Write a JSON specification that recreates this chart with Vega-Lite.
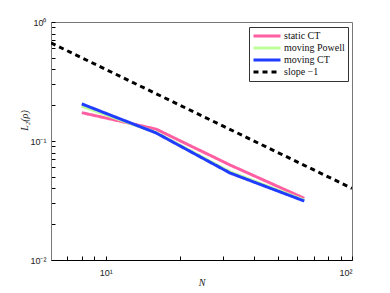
{
  "$schema": "https://vega.github.io/schema/vega-lite/v6.json",
  "width": 301,
  "height": 238,
  "autosize": "none",
  "padding": {"left": 51, "top": 22, "right": 38, "bottom": 33},
  "background": "white",
  "config": {
    "view": {"stroke": "#777"},
    "axis": {"grid": false, "domainColor": "#333", "tickColor": "#000", "tickSize": 4, "labelFont": "Liberation Sans", "labelFontSize": 9, "labelColor": "#222", "titleFont": "Liberation Serif", "titleFontStyle": "italic", "titleFontWeight": "normal", "titleFontSize": 10, "titleColor": "#222"}
  },
  "data": {"values": [
    {"series": "static CT", "N": 8, "v": 0.173},
    {"series": "static CT", "N": 16, "v": 0.126},
    {"series": "static CT", "N": 32, "v": 0.0628},
    {"series": "static CT", "N": 64, "v": 0.033},
    {"series": "moving Powell", "N": 8, "v": 0.196},
    {"series": "moving Powell", "N": 16, "v": 0.118},
    {"series": "moving Powell", "N": 32, "v": 0.055},
    {"series": "moving Powell", "N": 64, "v": 0.0318},
    {"series": "moving CT", "N": 8, "v": 0.205},
    {"series": "moving CT", "N": 16, "v": 0.117},
    {"series": "moving CT", "N": 32, "v": 0.0538},
    {"series": "moving CT", "N": 64, "v": 0.0313},
    {"series": "slope −1", "N": 6, "v": 0.667},
    {"series": "slope −1", "N": 100, "v": 0.04}
  ]},
  "layer": [
    {
      "mark": {"type": "line", "clip": true},
      "encoding": {
        "x": {"field": "N", "type": "quantitative", "scale": {"type": "log", "domain": [6, 100], "nice": false},
          "axis": {"title": "N", "tickSize": -4, "values": [6,7,8,9,10,20,30,40,50,60,70,80,90,100], "labelExpr": "datum.value == 10 ? '10¹' : datum.value == 100 ? '10²' : ''", "labelPadding": 12, "titleY": 22, "titleBaseline": "middle", "domainColor": "#000"}},
        "y": {"field": "v", "type": "quantitative", "scale": {"type": "log", "domain": [0.01, 1], "nice": false},
          "axis": {"title": "L₂(ρ)", "tickSize": -4, "values": [0.01,0.02,0.03,0.04,0.05,0.06,0.07,0.08,0.09,0.1,0.2,0.3,0.4,0.5,0.6,0.7,0.8,0.9,1], "labelExpr": "datum.value == 1 ? '10⁰' : datum.value == 0.1 ? '10⁻¹' : datum.value == 0.01 ? '10⁻²' : ''", "labelPadding": 9, "titleX": -27, "titleY": 98, "titleBaseline": "middle", "domainColor": "#777"}},
        "color": {"field": "series", "type": "nominal", "sort": ["static CT", "moving Powell", "moving CT", "slope −1"],
          "scale": {"domain": ["static CT", "moving Powell", "moving CT", "slope −1"], "range": ["#ff5fa2", "#bfff9a", "#1f3cff", "#000000"]},
          "legend": {"title": null, "orient": "none", "legendX": 198, "legendY": 5, "symbolType": "M-3,0H3", "symbolSize": 81, "symbolStrokeWidth": 3, "symbolOffset": 9, "labelFont": "Liberation Serif", "labelFontSize": 10, "labelColor": "#111", "rowPadding": 0, "strokeColor": "#333", "padding": 3, "fillColor": "white", "labelOffset": 11}},
        "strokeDash": {"field": "series", "type": "nominal",
          "scale": {"domain": ["static CT", "moving Powell", "moving CT", "slope −1"], "range": [[1,0],[1,0],[1,0],[5,4]]}, "legend": null},
        "strokeWidth": {"field": "series", "type": "nominal",
          "scale": {"domain": ["static CT", "moving Powell", "moving CT", "slope −1"], "range": [3, 3, 3, 2]}, "legend": null}
      }
    }
  ]
}
